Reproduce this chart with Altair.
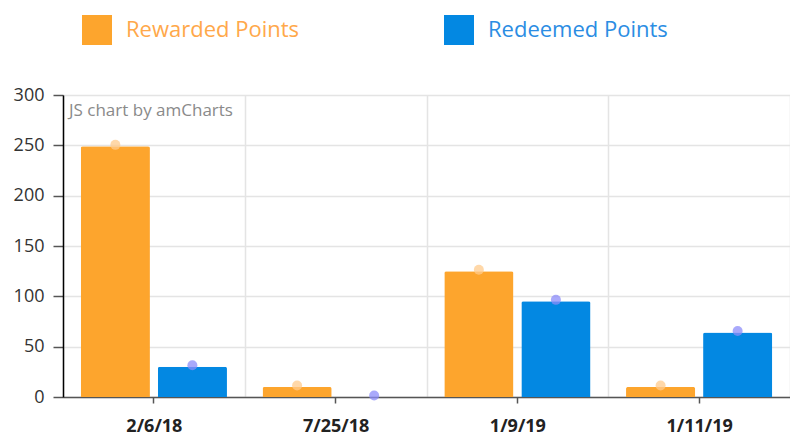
import altair as alt
import pandas as pd

dates = ["2/6/18", "7/25/18", "1/9/19", "1/11/19"]
series = ["Rewarded Points", "Redeemed Points"]
rewarded = [249, 10, 125, 10]
redeemed = [30, 0, 95, 64]
y_ticks = [0, 50, 100, 150, 200, 250, 300]

bar_colors = ["#FDA52D", "#0388E2"]
dot_colors = ["#FFCB8C", "#8C8CFA"]

rows = []
for d, r, m in zip(dates, rewarded, redeemed):
    rows.append({"date": d, "series": series[0], "value": r})
    rows.append({"date": d, "series": series[1], "value": m})
df = pd.DataFrame(rows)

FONT = "Open Sans"

x_scale = alt.Scale(paddingInner=0, paddingOuter=0)
xo_scale = alt.Scale(paddingInner=0.1026, paddingOuter=0.2308)
y_scale = alt.Scale(domain=[0, 300], nice=False)

base = alt.Chart(df)

bars = base.mark_bar(cornerRadiusTopLeft=2, cornerRadiusTopRight=2).encode(
    x=alt.X("date:N", sort=dates, scale=x_scale,
            axis=alt.Axis(title=None, orient="bottom", tickBand="extent", grid=True,
                          gridColor="#e4e4e4", gridWidth=1.5, ticks=False,
                          domain=True, domainColor="#555555", domainWidth=1.5,
                          labelFont=FONT, labelFontSize=18, labelFontWeight="bold",
                          labelColor="#222222", labelPadding=20, labelAngle=0)),
    xOffset=alt.XOffset("series:N", sort=series, scale=xo_scale),
    y=alt.Y("value:Q", scale=y_scale,
            axis=alt.Axis(title=None, values=y_ticks, grid=True, gridColor="#e4e4e4",
                          gridWidth=1.5, domain=True, domainColor="#000000", domainWidth=1.5,
                          tickColor="#555555", tickSize=10, tickWidth=1.5,
                          labelFont=FONT, labelFontSize=18, labelColor="#333333",
                          labelPadding=9)),
    color=alt.Color("series:N", sort=series,
                    scale=alt.Scale(domain=series, range=bar_colors),
                    legend=alt.Legend(title=None, orient="none", legendX=19, legendY=-80,
                                      direction="horizontal", symbolType="square",
                                      symbolSize=900, symbolStrokeWidth=0,
                                      symbolOpacity=1, labelLimit=400,
                                      labelFont=FONT, labelFontSize=22,
                                      labelOffset=14, columnPadding=144,
                                      labelColor=alt.ExprRef(
                                          "datum.label == 'Rewarded Points' ? '#FFA84A' : '#2B8DE3'"))),
)

dots = base.mark_circle(size=100, opacity=0.75, yOffset=-1.5).encode(
    x=alt.X("date:N", sort=dates, scale=x_scale,
            axis=alt.Axis(title=None, orient="bottom", grid=False, labels=False,
                          domain=False, ticks=True, tickSize=6, tickWidth=1.5,
                          tickColor="#555555")),
    xOffset=alt.XOffset("series:N", sort=series, scale=xo_scale),
    y=alt.Y("value:Q", scale=y_scale),
    color=alt.Color("series:N", sort=series,
                    scale=alt.Scale(domain=series, range=dot_colors), legend=None),
)

credit = alt.Chart(pd.DataFrame({"t": ["JS chart by amCharts"]})).mark_text(
    align="left", baseline="middle", font=FONT, fontSize=17, color="#8a8a8a"
).encode(text="t:N", x=alt.value(6), y=alt.value(16))

chart = alt.layer(bars, dots, credit).resolve_scale(
    color="independent"
).resolve_axis(x="independent").properties(
    width=727, height=302,
    autosize=alt.AutoSizeParams(type="none"),
    padding={"left": 55, "top": 87, "right": 0, "bottom": 40},
).configure_view(stroke=None)

chart.save("out.html", embed_options={"renderer": "svg", "actions": False})
